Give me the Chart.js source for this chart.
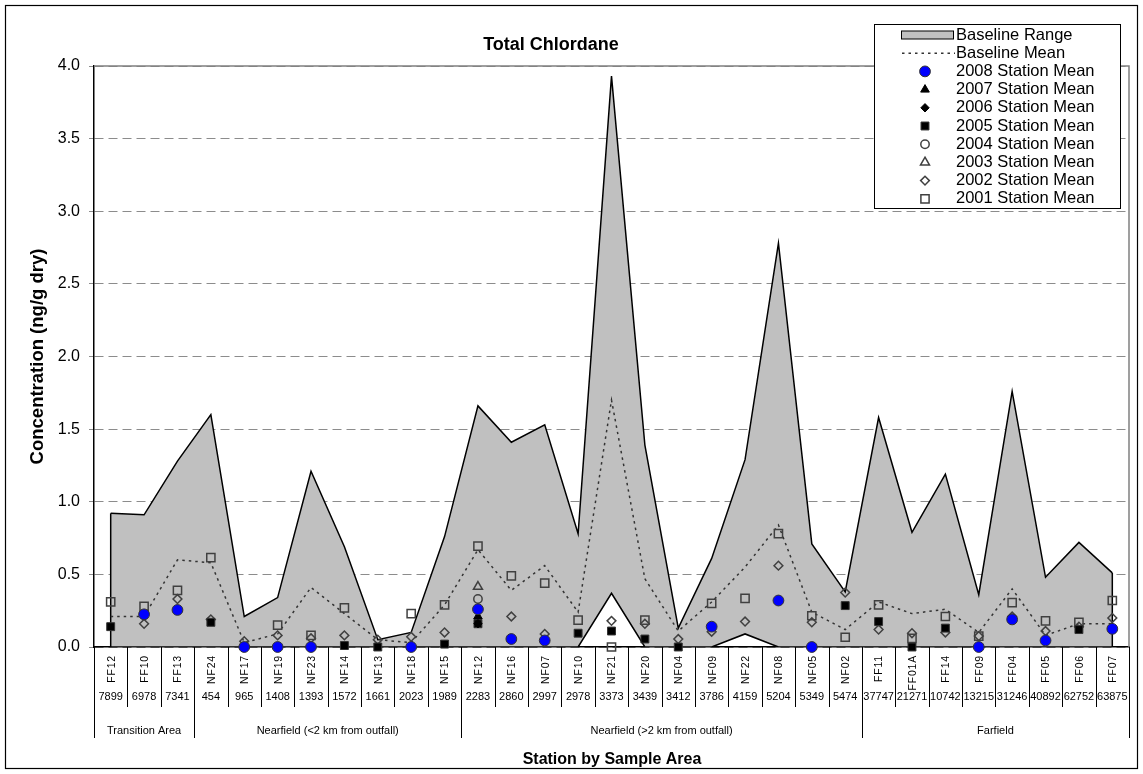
<!DOCTYPE html>
<html>
<head>
<meta charset="utf-8">
<script src="https://cdn.jsdelivr.net/npm/chart.js@4.4.1/dist/chart.umd.min.js"></script>
<style>
  html, body { margin: 0; padding: 0; background: #fff; }
  #wrap { width: 1143px; height: 774px; position: relative; }
</style>
</head>
<body>
<div id="wrap"><canvas id="chart"></canvas></div>
<script>
// Stations, ordered by sample area
var stations = ['FF12','FF10','FF13','NF24','NF17','NF19','NF23','NF14','NF13','NF18','NF15',
  'NF12','NF16','NF07','NF10','NF21','NF20','NF04','NF09','NF22','NF08','NF05','NF02',
  'FF11','FF01A','FF14','FF09','FF04','FF05','FF06','FF07'];
// Distance from outfall (m)
var distances = ['7899','6978','7341','454','965','1408','1393','1572','1661','2023','1989',
  '2283','2860','2997','2978','3373','3439','3412','3786','4159','5204','5349','5474',
  '37747','21271','10742','13215','31246','40892','62752','63875'];
var groupNames = ['Transition Area', 'Nearfield (<2 km from outfall)', 'Nearfield (>2 km from outfall)', 'Farfield'];
var groupSizes = [3, 8, 12, 8];

// Baseline (ng/g dry)
var baselineMax = [0.92,0.91,1.28,1.60,0.21,0.34,1.21,0.69,0.05,0.10,0.76,
  1.66,1.41,1.53,0.78,3.93,1.39,0.13,0.61,1.29,2.78,0.71,0.38,
  1.58,0.79,1.19,0.36,1.76,0.48,0.72,0.51];
var baselineMin = [0,0,0,0,0,0,0,0,0,0,0,
  0,0,0,0,0.37,0,0,0,0.09,0,0,0,
  0,0,0,0,0,0,0,0];
var baselineMean = [0.21,0.21,0.60,0.58,0.03,0.09,0.41,0.23,0.05,0.03,0.29,
  0.67,0.39,0.56,0.24,1.70,0.47,0.11,0.31,0.55,0.84,0.24,0.12,
  0.31,0.23,0.26,0.10,0.40,0.08,0.16,0.16];

// Station means by year
var mean2008 = [null,0.225,0.255,null,0,0,0,null,null,0,null,
  0.26,0.055,0.045,null,null,null,null,0.14,null,0.32,0,null,
  null,null,null,0,0.19,0.045,null,0.125];
var mean2007 = [null,null,null,null,null,null,null,null,null,null,null,
  0.21,null,null,null,null,null,null,null,null,null,null,null,
  null,null,null,null,null,null,null,null];
var mean2006 = [null,null,null,null,null,null,null,null,null,null,null,
  0.16,null,null,null,null,null,null,null,null,null,null,null,
  null,null,null,null,null,null,null,null];
var mean2005 = [0.14,null,null,0.17,null,null,null,0.01,0,null,0.02,
  0.16,null,null,0.095,0.11,0.055,0,null,null,null,null,0.285,
  0.175,0,0.13,null,null,null,0.12,null];
var mean2004 = [null,null,null,null,null,null,null,null,null,null,null,
  0.33,null,null,null,null,null,null,null,null,null,null,null,
  null,null,null,null,null,null,null,null];
var mean2003 = [null,null,null,null,null,null,null,null,null,null,null,
  0.415,null,null,null,null,null,null,null,null,null,null,null,
  null,null,null,null,null,null,null,null];
var mean2002 = [null,0.16,0.33,0.19,0.04,0.08,0.06,0.08,0.05,0.07,0.10,
  null,0.21,0.09,null,0.18,0.16,0.055,0.105,0.175,0.56,0.17,0.375,
  0.12,0.095,0.10,0.075,0.21,0.11,0.14,0.20];
var mean2001 = [0.31,0.28,0.39,0.615,null,0.15,0.08,0.27,null,0.23,0.29,
  0.695,0.49,0.44,0.185,0,0.185,null,0.30,0.335,0.78,0.215,0.067,
  0.29,0.06,0.21,0.075,0.305,0.18,0.17,0.32];

var OPEN = '#404040';

function marker(label, data, style, radius, fill, stroke, bw) {
  return {
    label: label, data: data, showLine: false, clip: false,
    pointStyle: style, pointRadius: radius, pointHoverRadius: radius,
    pointBackgroundColor: fill, pointBorderColor: stroke, pointBorderWidth: bw,
    backgroundColor: fill, borderColor: stroke
  };
}

var datasets = [
  marker('2008 Station Mean', mean2008, 'circle', 5.4, '#0000FF', '#333333', 1),
  marker('2007 Station Mean', mean2007, 'triangle', 5, '#000000', '#000000', 1),
  marker('2006 Station Mean', mean2006, 'rectRot', 4.2, '#000000', '#000000', 1),
  marker('2005 Station Mean', mean2005, 'rect', 5.6, '#000000', '#333333', 1),
  marker('2004 Station Mean', mean2004, 'circle', 4.2, 'rgba(0,0,0,0)', OPEN, 1.5),
  marker('2003 Station Mean', mean2003, 'triangle', 5.2, 'rgba(0,0,0,0)', OPEN, 1.5),
  marker('2002 Station Mean', mean2002, 'rectRot', 4.4, 'rgba(0,0,0,0)', OPEN, 1.5),
  marker('2001 Station Mean', mean2001, 'rect', 5.8, 'rgba(0,0,0,0)', OPEN, 1.5),
  { label: 'Baseline Mean', data: baselineMean, borderColor: '#333333', borderWidth: 1.5,
    borderDash: [2.5, 4], pointRadius: 0, tension: 0, fill: false },
  { label: 'Baseline Min', data: baselineMin, borderColor: '#000000', borderWidth: 1.5,
    pointRadius: 0, tension: 0, fill: false },
  { label: 'Baseline Range', data: baselineMax, borderColor: '#000000', borderWidth: 1.5,
    pointRadius: 0, tension: 0, fill: '-1', backgroundColor: '#C0C0C0' }
];
datasets.forEach(function (d, i) { d.order = i; });

function drawMark(ctx, style, x, y, r, fill, stroke, bw) {
  ctx.save();
  ctx.beginPath();
  if (style === 'circle') {
    ctx.arc(x, y, r, 0, Math.PI * 2);
  } else if (style === 'rect') {
    var s = Math.SQRT1_2 * r;
    ctx.rect(x - s, y - s, 2 * s, 2 * s);
  } else if (style === 'rectRot') {
    ctx.moveTo(x - r, y); ctx.lineTo(x, y - r); ctx.lineTo(x + r, y); ctx.lineTo(x, y + r);
    ctx.closePath();
  } else if (style === 'triangle') {
    var a = 0;
    ctx.moveTo(x + Math.sin(a) * r, y - Math.cos(a) * r);
    a += 2 * Math.PI / 3; ctx.lineTo(x + Math.sin(a) * r, y - Math.cos(a) * r);
    a += 2 * Math.PI / 3; ctx.lineTo(x + Math.sin(a) * r, y - Math.cos(a) * r);
    ctx.closePath();
  }
  ctx.fillStyle = fill; ctx.fill();
  ctx.lineWidth = bw; ctx.strokeStyle = stroke; ctx.stroke();
  ctx.restore();
}

var decor = {
  id: 'decor',
  beforeDraw: function (chart) {
    var ctx = chart.ctx;
    ctx.save();
    ctx.fillStyle = '#fff';
    ctx.fillRect(0, 0, chart.width, chart.height);
    ctx.restore();
  },
  beforeDatasetsDraw: function (chart) {
    // vertical closing edges of the baseline range area
    var ctx = chart.ctx, xs = chart.scales.x, ys = chart.scales.y;
    var last = stations.length - 1;
    ctx.save();
    ctx.strokeStyle = '#000'; ctx.lineWidth = 1.5;
    [0, last].forEach(function (i) {
      var x = xs.getPixelForValue(i);
      ctx.beginPath();
      ctx.moveTo(x, ys.getPixelForValue(baselineMin[i]));
      ctx.lineTo(x, ys.getPixelForValue(baselineMax[i]));
      ctx.stroke();
    });
    ctx.restore();
  },
  afterDraw: function (chart) {
    var ctx = chart.ctx, a = chart.chartArea, xs = chart.scales.x;
    var n = stations.length;
    ctx.save();

    // plot area border (top/right)
    ctx.strokeStyle = '#808080'; ctx.lineWidth = 1.5;
    ctx.beginPath();
    ctx.moveTo(a.left, a.top); ctx.lineTo(a.right, a.top); ctx.lineTo(a.right, a.bottom);
    ctx.stroke();

    // outer frame
    ctx.strokeStyle = '#000'; ctx.lineWidth = 1.2;
    ctx.strokeRect(5.5, 5.5, 1132, 763);

    // category table under the axis
    var bounds = [0], c = 0;
    groupSizes.forEach(function (g) { c += g; bounds.push(c); });
    ctx.strokeStyle = '#000'; ctx.lineWidth = 1;
    for (var i = 0; i <= n; i++) {
      var bx;
      if (i === 0) bx = a.left;
      else if (i === n) bx = a.right;
      else bx = (xs.getPixelForValue(i - 1) + xs.getPixelForValue(i)) / 2;
      var isGroup = bounds.indexOf(i) >= 0;
      bx = Math.round(bx) + 0.5;
      ctx.beginPath();
      ctx.moveTo(bx, a.bottom);
      ctx.lineTo(bx, isGroup ? a.bottom + 91 : a.bottom + 60);
      ctx.stroke();
    }

    ctx.fillStyle = '#000';
    // station names, rotated
    ctx.font = '10.5px Arial, "Liberation Sans", sans-serif';
    ctx.letterSpacing = '0.8px';
    ctx.textAlign = 'right'; ctx.textBaseline = 'middle';
    for (var j = 0; j < n; j++) {
      ctx.save();
      ctx.translate(xs.getPixelForValue(j) + 1, a.bottom + 8);
      ctx.rotate(-Math.PI / 2);
      ctx.fillText(stations[j], 0, 0);
      ctx.restore();
    }
    ctx.letterSpacing = '0px';

    // distances
    ctx.font = '11px Arial, "Liberation Sans", sans-serif';
    ctx.textAlign = 'center';
    for (var k = 0; k < n; k++) {
      ctx.fillText(distances[k], xs.getPixelForValue(k), a.bottom + 50, 31);
    }

    // group names
    for (var g = 0; g < groupNames.length; g++) {
      var x0 = xs.getPixelForValue(bounds[g]), x1 = xs.getPixelForValue(bounds[g + 1] - 1);
      ctx.fillText(groupNames[g], (x0 + x1) / 2, a.bottom + 84, 300);
    }

    // titles
    ctx.font = 'bold 18px Arial, "Liberation Sans", sans-serif';
    ctx.fillText('Total Chlordane', 551, 45);
    ctx.font = 'bold 16px Arial, "Liberation Sans", sans-serif';
    ctx.fillText('Station by Sample Area', 612, 760);
    ctx.save();
    ctx.translate(38, (a.top + a.bottom) / 2);
    ctx.rotate(-Math.PI / 2);
    ctx.font = 'bold 18.5px Arial, "Liberation Sans", sans-serif';
    ctx.fillText('Concentration (ng/g dry)', 0, 0);
    ctx.restore();

    // legend
    var lx = 874.5, ly = 24.5, lw = 246, lh = 184;
    ctx.fillStyle = '#fff'; ctx.fillRect(lx, ly, lw, lh);
    ctx.strokeStyle = '#000'; ctx.lineWidth = 1; ctx.strokeRect(lx, ly, lw, lh);
    ctx.font = '16.5px Arial, "Liberation Sans", sans-serif';
    ctx.textAlign = 'left'; ctx.textBaseline = 'middle';
    var rowY = function (r) { return 35 + r * 18.2; };
    var ds = chart.data.datasets;
    // range swatch
    ctx.fillStyle = '#C0C0C0'; ctx.fillRect(901.5, rowY(0) - 4, 52, 8);
    ctx.strokeStyle = '#000'; ctx.lineWidth = 1; ctx.strokeRect(901.5, rowY(0) - 4, 52, 8);
    ctx.fillStyle = '#000'; ctx.fillText(ds[10].label, 956, rowY(0));
    // mean line
    ctx.save();
    ctx.strokeStyle = '#333'; ctx.lineWidth = 1.5; ctx.setLineDash([2.5, 4]);
    ctx.beginPath(); ctx.moveTo(902, rowY(1)); ctx.lineTo(955, rowY(1)); ctx.stroke();
    ctx.restore();
    ctx.fillText(ds[8].label, 956, rowY(1));
    for (var m = 0; m < 8; m++) {
      var d = ds[m], y = rowY(m + 2);
      var fill = d.pointBackgroundColor === 'rgba(0,0,0,0)' ? '#fff' : d.pointBackgroundColor;
      drawMark(ctx, d.pointStyle, 925, y, d.pointRadius, fill, d.pointBorderColor, d.pointBorderWidth);
      ctx.fillStyle = '#000';
      ctx.fillText(d.label, 956, y);
    }
    ctx.restore();
  }
};

new Chart(document.getElementById('chart').getContext('2d'), {
  type: 'line',
  data: { labels: stations, datasets: datasets },
  options: {
    responsive: true, maintainAspectRatio: false, animation: false,
    layout: { padding: { left: 0, right: 14, top: 66, bottom: 127 } },
    plugins: {
      legend: { display: false },
      title: { display: false },
      tooltip: { enabled: false },
      filler: { drawTime: 'beforeDatasetsDraw' }
    },
    scales: {
      x: {
        type: 'category', offset: true,
        grid: { display: false },
        ticks: { display: false },
        border: { display: true, color: '#000', width: 1.5 },
        afterFit: function (s) { s.height = 0; }
      },
      y: {
        min: 0, max: 4,
        ticks: { stepSize: 0.5, color: '#000', padding: 9,
          font: { family: 'Arial, "Liberation Sans", sans-serif', size: 16 },
          callback: function (v) { return Number(v).toFixed(1); } },
        grid: { color: '#8c8c8c', lineWidth: 1, tickLength: 5, drawTicks: true },
        border: { display: true, color: '#000', width: 1.5, dash: [9, 5] },
        afterFit: function (s) { s.width = 94; }
      }
    }
  },
  plugins: [decor]
});
</script>
</body>
</html>
